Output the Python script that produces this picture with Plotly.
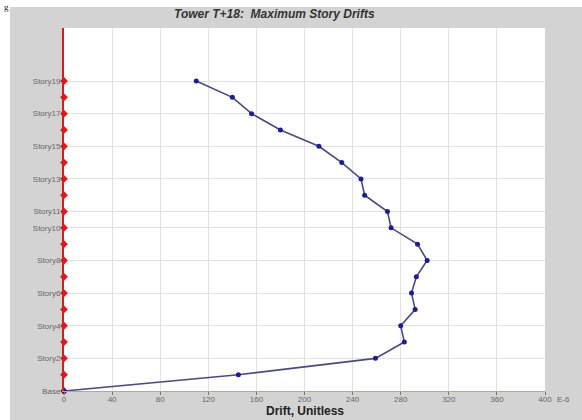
import plotly.graph_objects as go

# Data
story_labels = ["Base"] + [f"Story{i}" for i in range(1, 20)]
story_index = list(range(0, 20))
drift = [0, 145, 259, 283, 280, 292, 289, 293, 302, 294, 272, 269, 250, 247, 231, 212, 180, 156, 140, 110]
ytick_vals = [0, 2, 4, 6, 8, 10, 11, 13, 15, 17, 19]
ytick_text = [story_labels[v] for v in ytick_vals]
xtick_vals = [0, 40, 80, 120, 160, 200, 240, 280, 320, 360, 400]

W, H = 582, 420
ml, mr, mt, mb = 64, 37, 28, 29
pw, ph = W - ml - mr, H - mt - mb

def px(x):
    return (x - ml) / pw

def py(y):
    return (H - mb - y) / ph

fig = go.Figure()

# red tick markers on the vertical axis
fig.add_trace(go.Scatter(
    x=[0] * len(story_index), y=story_index, mode="markers",
    marker=dict(symbol="diamond", size=6, color="#e01818"),
    cliponaxis=False, hoverinfo="skip", showlegend=False))

fig.add_trace(go.Scatter(
    x=drift, y=story_index, mode="lines+markers",
    line=dict(color="#4a4a82", width=1.6),
    marker=dict(symbol="circle", size=5, color="#1c1c9a"),
    cliponaxis=False, showlegend=False))

fig.update_layout(
    width=W, height=H,
    margin=dict(l=ml, r=mr, t=mt, b=mb),
    paper_bgcolor="#d3d3d3",
    plot_bgcolor="white",
    font=dict(family="Liberation Sans, Arial, sans-serif", size=8, color="#555"),
    xaxis=dict(range=[0, 400], tickvals=xtick_vals, ticktext=[str(v) for v in xtick_vals],
               showgrid=True, gridcolor="#e2e2e2", gridwidth=1,
               zeroline=False, showline=True, linecolor="#e39090", linewidth=1.2,
               ticks="outside", ticklen=3, tickcolor="#777", ticklabelstandoff=-3,
               tickfont=dict(size=8, color="#666")),
    yaxis=dict(range=[0, 22.25], tickvals=ytick_vals, ticktext=ytick_text,
               showgrid=True, gridcolor="#e2e2e2", gridwidth=1,
               zeroline=False, showline=True, linecolor="#e01818", linewidth=2,
               ticks="", tickfont=dict(size=8, color="#666")),
    shapes=[
        dict(type="rect", xref="paper", yref="paper", x0=px(-5), x1=px(10), y0=py(H + 5), y1=py(-5),
             fillcolor="white", line=dict(width=0), layer="below"),
        dict(type="rect", xref="paper", yref="paper", x0=px(-5), x1=px(W + 5), y0=py(7), y1=py(-5),
             fillcolor="white", line=dict(width=0), layer="below"),
    ],
    annotations=[
        dict(text="<b><i>Tower T+18:  Maximum Story Drifts</i></b>", xref="paper", yref="paper",
             x=px(274), y=py(14), xanchor="center", yanchor="middle", showarrow=False,
             font=dict(size=12, color="#333", family="Liberation Sans, Arial, sans-serif")),
        dict(text="<b>Drift, Unitless</b>", xref="paper", yref="paper",
             x=px(305), y=py(420), xanchor="center", yanchor="bottom", showarrow=False,
             font=dict(size=12, color="#222", family="Liberation Sans, Arial, sans-serif")),
        dict(text="E-6", xref="paper", yref="paper",
             x=px(555), y=py(399), xanchor="left", yanchor="middle", showarrow=False,
             font=dict(size=8, color="#666")),
        dict(text="g", xref="paper", yref="paper",
             x=px(2), y=py(0), xanchor="left", yanchor="top", showarrow=False,
             font=dict(size=9, color="#222", family="Liberation Serif, serif")),
    ],
)

fig.write_html("out.html")
